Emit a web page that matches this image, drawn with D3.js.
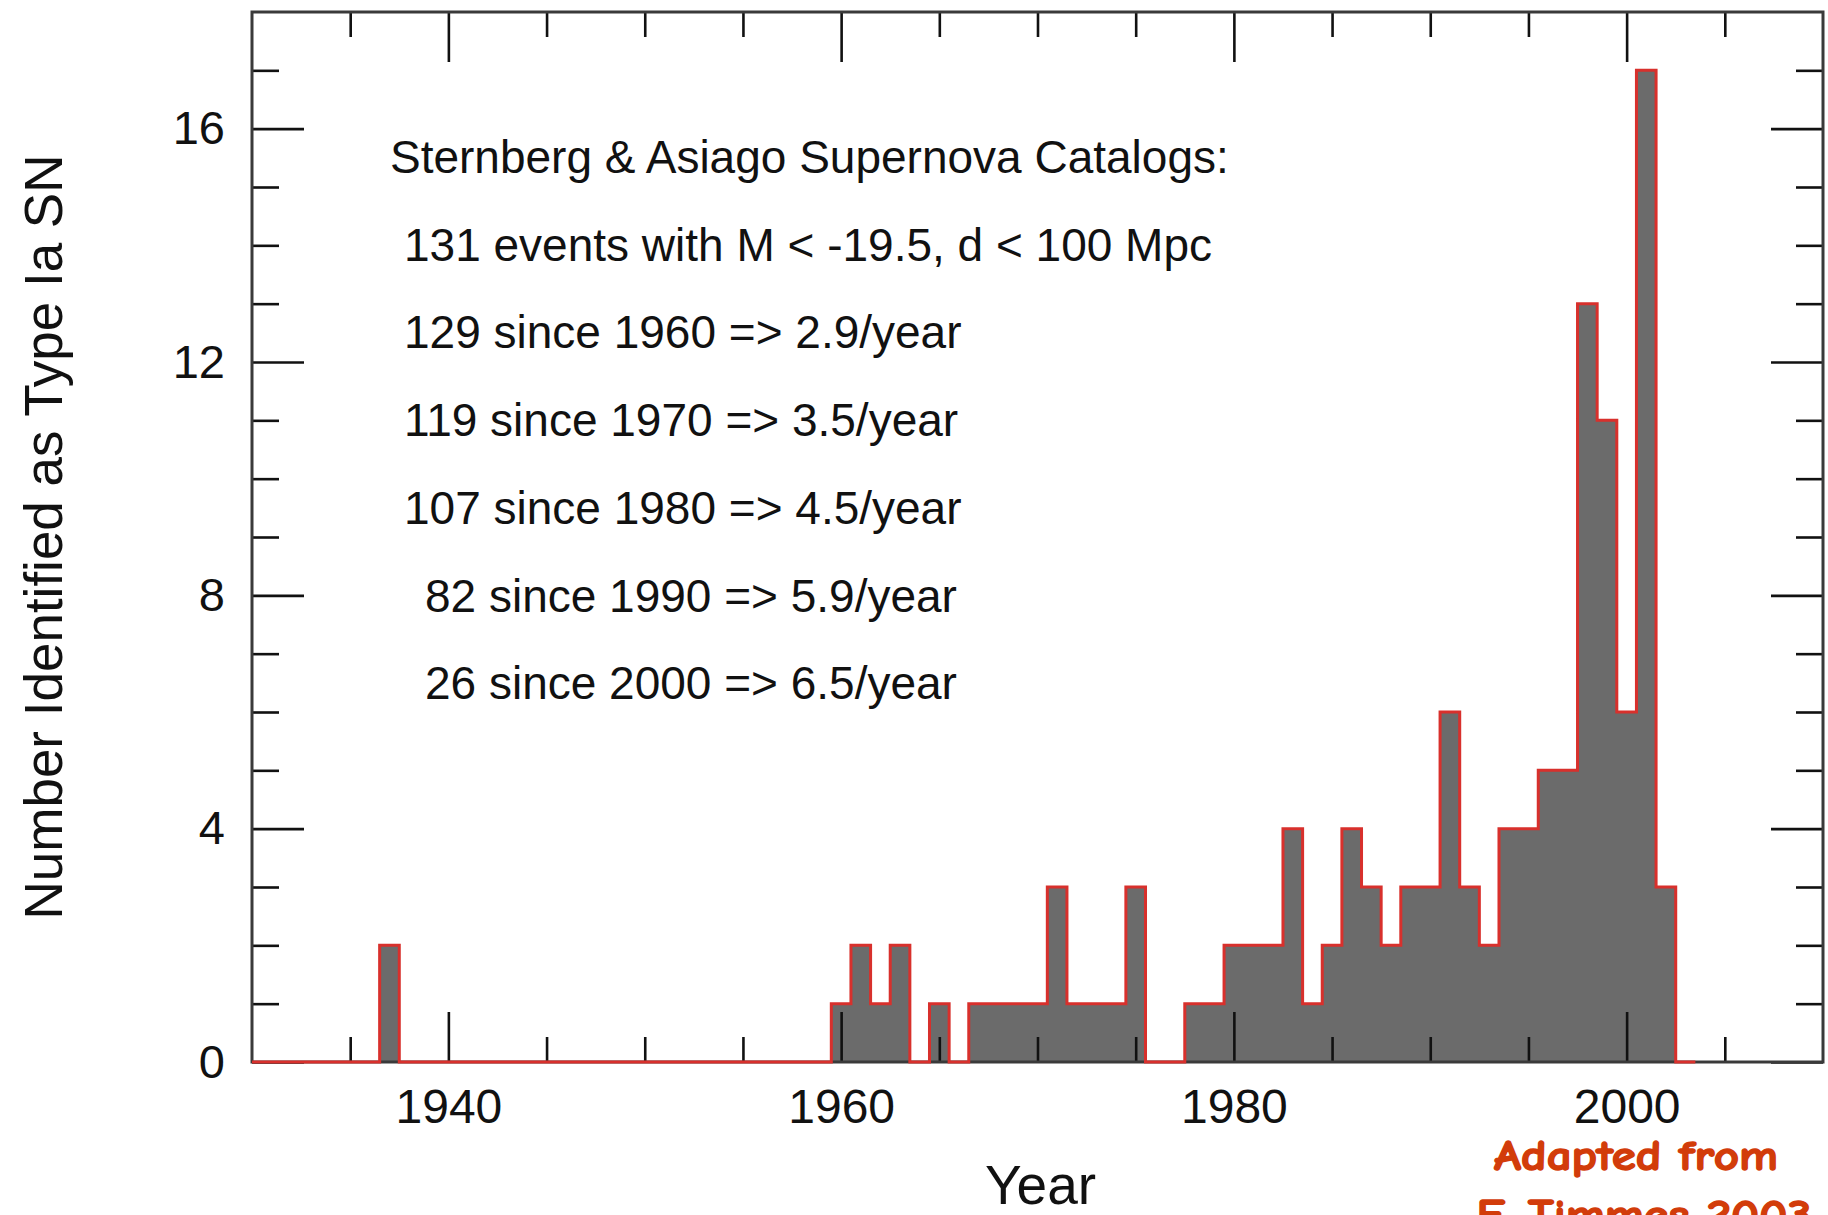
<!DOCTYPE html>
<html>
<head>
<meta charset="utf-8">
<script src="https://cdn.jsdelivr.net/npm/d3@7"></script>
<style>
  html, body { margin: 0; padding: 0; background: #ffffff; }
  svg { display: block; }
  text { font-family: "Liberation Sans", Arial, Helvetica, sans-serif; fill: #111; }
</style>
</head>
<body>
<svg id="chart" width="1828" height="1215"></svg>
<script>
// Type Ia supernovae per year (bins centred on the year)
const eventYears = [1937, 1960, 1961, 1962, 1963, 1965, 1967, 1968, 1969, 1970,
                    1971, 1972, 1973, 1974, 1975, 1978, 1979, 1980, 1981, 1982,
                    1983, 1984, 1985, 1986, 1987, 1988, 1989, 1990, 1991, 1992,
                    1993, 1994, 1995, 1996, 1997, 1998, 1999, 2000, 2001, 2002];
const eventCounts = [2, 1, 2, 1, 2, 1, 1, 1, 1, 1,
                     3, 1, 1, 1, 3, 1, 1, 2, 2, 2,
                     4, 1, 2, 4, 3, 2, 3, 3, 6, 3,
                     2, 4, 4, 5, 5, 13, 11, 6, 17, 3];

// Histogram coverage (years)
const histFirstYear = 1930;
const histLastYear = 2003;

// Axis ticks
const xMajorTicks = [1940, 1960, 1980, 2000];
const xMinorTicks = [1935, 1945, 1950, 1955, 1965, 1970, 1975, 1985, 1990, 1995, 2005];
const yMajorTicks = [0, 4, 8, 12, 16];
const yMinorTicks = [1, 2, 3, 5, 6, 7, 9, 10, 11, 13, 14, 15, 17];

// Text
const noteLines = [
  "Sternberg & Asiago Supernova Catalogs:",
  "131 events with M < -19.5, d < 100 Mpc",
  "129 since 1960 => 2.9/year",
  "119 since 1970 => 3.5/year",
  "107 since 1980 => 4.5/year",
  "82 since 1990 => 5.9/year",
  "26 since 2000 => 6.5/year"
];
const xTitle = "Year";
const yTitle = "Number Identified as Type Ia SN";
const creditLines = ["Adapted from", "F. Timmes 2003"];

const svg = d3.select("#chart");
const plotLeft = 252, plotRight = 1823, plotTop = 12, plotBottom = 1062;

const x = d3.scaleLinear().domain([1930, 2010]).range([plotLeft, plotRight]);
const y = d3.scaleLinear().domain([0, 18]).range([plotBottom, plotTop]);

// Step points: each bin runs from year-0.5 to year+0.5, clipped to the axis start
const countByYear = new Map(eventYears.map((yr, i) => [yr, eventCounts[i]]));
const steps = d3.range(histFirstYear, histLastYear + 1).map(yr => ({
  x0: Math.max(x.domain()[0], yr - 0.5),
  v: countByYear.get(yr) || 0
}));
steps.push({ x0: histLastYear + 0.5, v: 0 });

const area = d3.area()
  .x(d => x(d.x0))
  .y0(y(0))
  .y1(d => y(d.v))
  .curve(d3.curveStepAfter);

const line = d3.line()
  .x(d => x(d.x0))
  .y(d => y(d.v))
  .curve(d3.curveStepAfter);

// Filled histogram
svg.append("path")
  .datum(steps)
  .attr("d", area)
  .attr("fill", "#6b6b6b");

// Ticks on all four sides, pointing inward
function styleAxis(g) {
  g.select(".domain").remove();
  g.selectAll(".tick line").attr("stroke", "#111").attr("stroke-width", 2.6);
  g.selectAll(".tick text")
    .style("font-family", "'Liberation Sans', Arial, Helvetica, sans-serif")
    .attr("fill", "#111");
}

const major = 50, minor = 25;

svg.append("g").attr("transform", `translate(0,${plotBottom})`)
  .call(d3.axisBottom(x).tickValues(xMinorTicks).tickSize(-minor).tickFormat(""))
  .call(styleAxis);
svg.append("g").attr("transform", `translate(0,${plotBottom})`)
  .call(d3.axisBottom(x).tickValues(xMajorTicks).tickSize(-major).tickPadding(27).tickFormat(d3.format("d")))
  .call(styleAxis)
  .call(g => g.selectAll(".tick text").attr("font-size", 48));

svg.append("g").attr("transform", `translate(0,${plotTop})`)
  .call(d3.axisTop(x).tickValues(xMinorTicks).tickSize(-minor).tickFormat(""))
  .call(styleAxis);
svg.append("g").attr("transform", `translate(0,${plotTop})`)
  .call(d3.axisTop(x).tickValues(xMajorTicks).tickSize(-major).tickFormat(""))
  .call(styleAxis);

svg.append("g").attr("transform", `translate(${plotLeft},0)`)
  .call(d3.axisLeft(y).tickValues(yMinorTicks).tickSize(-minor - 2).tickFormat(""))
  .call(styleAxis);
svg.append("g").attr("transform", `translate(${plotLeft},0)`)
  .call(d3.axisLeft(y).tickValues(yMajorTicks).tickSize(-major - 2).tickPadding(27).tickFormat(d3.format("d")))
  .call(styleAxis)
  .call(g => g.selectAll(".tick text").attr("font-size", 47));

svg.append("g").attr("transform", `translate(${plotRight},0)`)
  .call(d3.axisRight(y).tickValues(yMinorTicks).tickSize(-minor - 2).tickFormat(""))
  .call(styleAxis);
svg.append("g").attr("transform", `translate(${plotRight},0)`)
  .call(d3.axisRight(y).tickValues(yMajorTicks).tickSize(-major - 2).tickFormat(""))
  .call(styleAxis);

// Plot frame
svg.append("rect")
  .attr("x", plotLeft).attr("y", plotTop)
  .attr("width", plotRight - plotLeft).attr("height", plotBottom - plotTop)
  .attr("fill", "none")
  .attr("stroke", "#3a3a3a")
  .attr("stroke-width", 3);

// Red outline of the histogram
svg.append("path")
  .datum(steps)
  .attr("d", line)
  .attr("fill", "none")
  .attr("stroke", "#d8302c")
  .attr("stroke-width", 3)
  .attr("stroke-linejoin", "miter");

// Catalogue summary
const notePos = [
  { x: 390, y: 173 },
  { x: 404, y: 261 },
  { x: 404, y: 348 },
  { x: 404, y: 436 },
  { x: 404, y: 524 },
  { x: 425, y: 612 },
  { x: 425, y: 699 }
];
svg.append("g").selectAll("text")
  .data(noteLines)
  .join("text")
  .attr("x", (d, i) => notePos[i].x)
  .attr("y", (d, i) => notePos[i].y)
  .attr("font-size", 46)
  .text(d => d);

// Axis titles
svg.append("text")
  .attr("x", (plotLeft + plotRight) / 2 + 3)
  .attr("y", 1204)
  .attr("text-anchor", "middle")
  .attr("font-size", 55)
  .text(xTitle);

svg.append("text")
  .attr("transform", `translate(62,537) rotate(-90)`)
  .attr("text-anchor", "middle")
  .attr("font-size", 53)
  .text(yTitle);

// Credit
svg.append("g").selectAll("text")
  .data(creditLines)
  .join("text")
  .attr("x", (d, i) => i === 0 ? 1636 : 1644)
  .attr("y", (d, i) => i === 0 ? 1170 : 1229)
  .attr("text-anchor", "middle")
  .attr("font-size", 42)
  .attr("font-weight", "bold")
  .attr("textLength", (d, i) => i === 0 ? 284 : 335)
  .attr("lengthAdjust", "spacingAndGlyphs")
  .style("font-family", "'Comic Sans MS', 'Comic Neue', 'DejaVu Sans', sans-serif")
  .style("fill", "#d23c0a")
  .style("stroke", "#d23c0a")
  .style("stroke-width", 1.4)
  .text(d => d);
</script>
</body>
</html>
